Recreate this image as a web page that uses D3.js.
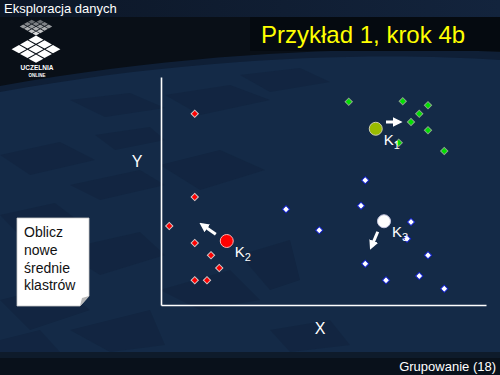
<!DOCTYPE html>
<html>
<head>
<meta charset="utf-8">
<script src="https://cdn.jsdelivr.net/npm/d3@7"></script>
<style>
  html, body { margin: 0; padding: 0; background: #142a47; }
  svg { display: block; font-family: "Liberation Sans", Arial, sans-serif; }
</style>
</head>
<body>
<div id="chart"></div>
<script>
// cluster members (x, y in grid units)
const redX   = [2.70, 2.70, 0.66, 2.70, 4.00, 4.66, 2.70, 3.68];
const redY   = [15.30, 8.64, 6.32, 4.96, 3.98, 2.96, 1.98, 1.98];
const greenX = [15.02, 19.34, 21.36, 20.66, 20.00, 21.36, 19.02, 22.66];
const greenY = [16.26, 16.30, 15.98, 15.30, 14.64, 13.98, 12.98, 12.32];
const blueX  = [16.34, 16.00, 10.00, 12.66, 20.00, 19.68, 21.36, 16.34, 20.66, 18.00, 22.66];
const blueY  = [9.98, 7.94, 7.66, 5.98, 6.64, 5.30, 3.98, 3.30, 2.32, 1.98, 1.30];

// centroids K1, K2, K3 and the move arrows
const centroidNames = ["1", "2", "3"];
const centroidX = [17.18, 5.26, 17.84];
const centroidY = [14.10, 5.12, 6.70];
const arrowFromX = [18.00, 4.38, 17.34];
const arrowFromY = [14.64, 5.66, 5.86];
const arrowToX   = [19.34, 3.06, 16.72];
const arrowToY   = [14.64, 6.58, 4.40];

const noteLines = ["Oblicz", "nowe", "średnie", "klastrów"];

const W = 500, H = 375;
const svg = d3.select("#chart").append("svg").attr("width", W).attr("height", H);

// --- background ---
const bg = svg.append("g");
bg.append("rect").attr("width", W).attr("height", H).attr("fill", "#142a47");

// faint perspective tiles
const tiles = [
  "M70,100 L130,93 L165,108 L105,117 Z",
  "M95,135 L150,127 L165,140 L115,150 Z",
  "M0,155 L60,142 L95,160 L30,175 Z",
  "M70,185 L140,170 L165,185 L100,200 Z",
  "M0,215 L55,203 L80,222 L20,236 Z",
  "M60,250 L140,232 L165,255 L100,275 Z",
  "M0,300 L60,285 L90,310 L30,330 Z",
  "M70,330 L150,310 L165,345 L110,352 Z",
  "M165,95 L230,85 L270,100 L200,115 Z",
  "M160,165 L220,150 L265,170 L200,190 Z",
  "M240,255 L290,240 L300,280 L270,290 Z",
  "M160,290 L230,270 L260,300 L200,310 Z",
  "M240,75 L300,68 L330,82 L270,92 Z",
  "M0,340 L40,330 L60,352 L0,352 Z",
  "M270,330 L330,320 L350,345 L290,352 Z"
];
bg.selectAll("path.tile").data(tiles).join("path")
  .attr("class", "tile").attr("d", d => d).attr("fill", "#11243f").attr("opacity", 0.75);

// dark top region with curved lower edge
bg.append("path")
  .attr("d", "M0,17 H500 V60 C380,52 200,56 0,92 Z")
  .attr("fill", "#0f1f36");
bg.append("path")
  .attr("d", "M0,17 H500 V52 C380,46 200,50 0,86 Z")
  .attr("fill", "#090f17");
bg.append("rect").attr("x", 250).attr("y", 17).attr("width", 250).attr("height", 34).attr("fill", "#050a10");

// header strip
const hdr = svg.append("defs").append("linearGradient").attr("id", "hdr").attr("x1", 0).attr("x2", 1);
hdr.append("stop").attr("offset", 0).attr("stop-color", "#0c1626");
hdr.append("stop").attr("offset", 1).attr("stop-color", "#13243d");
svg.append("rect").attr("width", W).attr("height", 17).attr("fill", "url(#hdr)");
svg.append("text").attr("x", 4).attr("y", 13).attr("fill", "#ffffff")
  .attr("font-size", 13).text("Eksploracja danych");

// bottom strip
svg.append("rect").attr("y", 352).attr("width", W).attr("height", 6).attr("fill", "#0e1b2b");
svg.append("rect").attr("y", 358).attr("width", W).attr("height", 17).attr("fill", "#09111b");
svg.append("text").attr("x", 496).attr("y", 371).attr("text-anchor", "end")
  .attr("fill", "#ffffff").attr("font-size", 13).text("Grupowanie (18)");

// title
svg.append("text").attr("x", 261).attr("y", 43).attr("fill", "#ffff00")
  .attr("font-size", 24).text("Przykład 1, krok 4b");

// logo: perspective grid of white squares, fading towards the top
const logo = svg.append("g").attr("transform", "translate(36,49) scale(1,0.56) rotate(45)");
const bigCells = d3.range(9).map(i => ({ c: i % 3, r: Math.floor(i / 3) }));
logo.selectAll("rect.big").data(bigCells).join("rect")
  .attr("class", "big")
  .attr("x", d => -17 + d.c * 12).attr("y", d => -17 + d.r * 12)
  .attr("width", 10.5).attr("height", 10.5).attr("fill", "#ffffff");
const smallCells = d3.range(16).map(i => ({ c: i % 4, r: Math.floor(i / 4) }))
  .filter(d => d.c + d.r >= 1);
logo.selectAll("rect.small").data(smallCells).join("rect")
  .attr("class", "small")
  .attr("x", d => -40 + d.c * 6).attr("y", d => -40 + d.r * 6)
  .attr("width", 5).attr("height", 5).attr("fill", "#ffffff")
  .attr("opacity", d => 0.3 + 0.55 * (d.c + d.r) / 6);
svg.append("text").attr("x", 37).attr("y", 70).attr("text-anchor", "middle")
  .attr("fill", "#ffffff").attr("font-size", 6.5).attr("font-weight", "bold").text("UCZELNIA");
svg.append("text").attr("x", 37).attr("y", 77).attr("text-anchor", "middle")
  .attr("fill", "#ffffff").attr("font-size", 4.5).attr("font-weight", "bold").text("ONLINE");

// --- scatter ---
const x = d3.scaleLinear().domain([0, 26]).range([161, 486]);
const y = d3.scaleLinear().domain([0, 18.24]).range([305, 77]);

// axes (plain white lines, no ticks)
const axisG = svg.append("g");
axisG.append("g").attr("transform", `translate(0,${y(0)})`)
  .call(d3.axisBottom(x).tickValues([]).tickSizeOuter(0))
  .call(g => g.select(".domain").attr("stroke", "#ffffff").attr("stroke-width", 1.6));
axisG.append("g").attr("transform", `translate(${x(0)},0)`)
  .call(d3.axisLeft(y).tickValues([]).tickSizeOuter(0))
  .call(g => g.select(".domain").attr("stroke", "#ffffff").attr("stroke-width", 1.6));
svg.append("text").attr("x", 320).attr("y", 334).attr("text-anchor", "middle")
  .attr("fill", "#ffffff").attr("font-size", 16).text("X");
svg.append("text").attr("x", 137).attr("y", 167).attr("text-anchor", "middle")
  .attr("fill", "#ffffff").attr("font-size", 16).text("Y");

const diamond = d3.symbol(d3.symbolSquare, 26);
const groups = [
  { xs: redX, ys: redY, fill: "#ff0000", stroke: "#d8c8c8" },
  { xs: greenX, ys: greenY, fill: "#00e000", stroke: "#88aa88" },
  { xs: blueX, ys: blueY, fill: "#ffffff", stroke: "#1020d0" }
];
groups.forEach(gr => {
  svg.append("g").selectAll("path")
    .data(gr.xs.map((v, i) => [v, gr.ys[i]]))
    .join("path")
    .attr("d", diamond)
    .attr("transform", d => `translate(${x(d[0])},${y(d[1])}) rotate(45)`)
    .attr("fill", gr.fill).attr("stroke", gr.stroke).attr("stroke-width", 1);
});

// arrows (line shortened so the head tip lands on the end point)
svg.append("defs").append("marker")
  .attr("id", "head").attr("viewBox", "0 -5 10 10")
  .attr("refX", 6).attr("refY", 0)
  .attr("markerWidth", 3.2).attr("markerHeight", 3.4)
  .attr("markerUnits", "strokeWidth").attr("orient", "auto")
  .append("path").attr("d", "M0,-5L10,0L0,5Z").attr("fill", "#ffffff");
function arrowEnd(i) {
  const x1 = x(arrowFromX[i]), y1 = y(arrowFromY[i]);
  const x2 = x(arrowToX[i]), y2 = y(arrowToY[i]);
  const len = Math.hypot(x2 - x1, y2 - y1) || 1;
  return [x2 - (x2 - x1) / len * 4, y2 - (y2 - y1) / len * 4];
}
svg.append("g").selectAll("line")
  .data(arrowFromX.map((v, i) => i))
  .join("line")
  .attr("x1", i => x(arrowFromX[i])).attr("y1", i => y(arrowFromY[i]))
  .attr("x2", i => arrowEnd(i)[0]).attr("y2", i => arrowEnd(i)[1])
  .attr("stroke", "#ffffff").attr("stroke-width", 3)
  .attr("marker-end", "url(#head)");

// centroids
const centroidFill = ["#99bb00", "#ff0000", "#ffffff"];
const centroidStroke = ["#d0d0b0", "#ffb0b0", "#c8c8e0"];
const cg = svg.append("g").selectAll("g")
  .data(centroidNames.map((n, i) => i))
  .join("g")
  .attr("transform", i => `translate(${x(centroidX[i])},${y(centroidY[i])})`);
cg.append("circle").attr("r", 6.5)
  .attr("fill", i => centroidFill[i]).attr("stroke", i => centroidStroke[i]).attr("stroke-width", 1);
const lab = cg.append("text").attr("x", 8).attr("y", 16)
  .attr("fill", "#ffffff").attr("font-size", 15);
lab.append("tspan").text("K");
lab.append("tspan").attr("dy", 4).attr("font-size", 11).text(i => centroidNames[i]);

// note box
const note = svg.append("g");
note.append("path")
  .attr("d", "M17,218 H89 V296 L80,306 H17 Z")
  .attr("fill", "#ffffff").attr("stroke", "#c8c8c8").attr("stroke-width", 0.8);
note.append("path").attr("d", "M89,296 L80,306 L82,298 Z").attr("fill", "#b8b8b8");
note.selectAll("text").data(noteLines).join("text")
  .attr("x", 24).attr("y", (d, i) => 237 + i * 17.8)
  .attr("fill", "#111111").attr("font-size", 14).text(d => d);
</script>
</body>
</html>
